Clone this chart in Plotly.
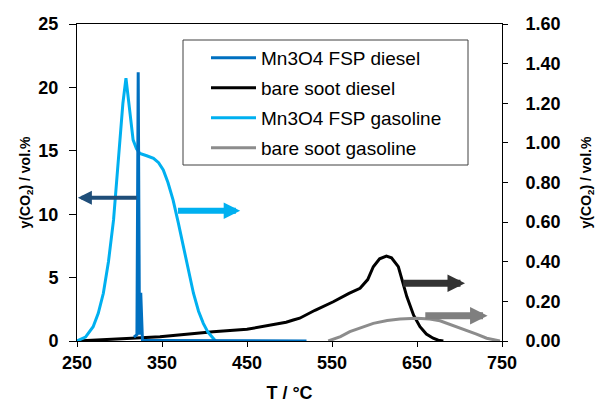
import plotly.graph_objects as go

# ---- data ----
T_fsp_diesel = [317, 320.5, 322, 323.5, 325, 327, 350, 400, 450, 500, 520]
y_fsp_diesel = [0.3, 0.5, 21.2, 0.5, 3.8, 0.05, 0.03, 0.02, 0.02, 0.01, 0.0]  # left axis

T_bare_diesel = [250, 280, 300, 320, 347.6, 380, 410, 450, 481, 496, 504.5, 512, 530, 551.5,
                 570, 583, 592, 598.6, 606, 614, 620, 628, 638, 646, 653.5, 661, 669, 675, 681]
y_bare_diesel = [0, 0.005, 0.01, 0.015, 0.022, 0.035, 0.047, 0.059, 0.081, 0.095, 0.106, 0.115,
                 0.155, 0.198, 0.24, 0.266, 0.31, 0.375, 0.415, 0.429, 0.42, 0.375, 0.224, 0.13,
                 0.072, 0.035, 0.014, 0.004, 0]

T_fsp_gasoline = [250, 260, 269, 275, 281, 287, 293, 300, 304, 307.6, 310, 313, 316, 320, 324,
                  332, 340, 346, 351.5, 357, 363, 369, 375, 381, 387, 393, 398.6, 404, 410, 413]
y_fsp_gasoline = [0, 0.02, 0.072, 0.14, 0.241, 0.40, 0.611, 0.998, 1.2, 1.327, 1.233, 1.10, 1.015,
                  0.97, 0.947, 0.935, 0.922, 0.90, 0.863, 0.80, 0.712, 0.60, 0.476, 0.35, 0.241,
                  0.15, 0.089, 0.045, 0.014, 0]

T_bare_gasoline = [545.6, 560, 571, 585, 598.6, 615, 630, 649.6, 665, 677, 692, 708, 720, 732, 740, 747.6]
y_bare_gasoline = [0, 0.022, 0.047, 0.07, 0.089, 0.103, 0.111, 0.115, 0.111, 0.102, 0.08, 0.056,
                   0.035, 0.014, 0.005, 0]

x_ticks = [250, 350, 450, 550, 650, 750]
y_left_ticks = [0, 5, 10, 15, 20, 25]
y_right_ticks = [0, 0.2, 0.4, 0.6, 0.8, 1.0, 1.2, 1.4, 1.6]

FONT = "Liberation Sans, Arial, sans-serif"

# plot-area geometry in pixels (for positioning legend pieces)
L, R, T, B = 77, 502, 24, 341
def px_x(p):
    return (p - L) / (R - L)
def px_y(p):
    return (B - p) / (B - T)

fig = go.Figure()
fig.add_trace(go.Scatter(x=T_fsp_diesel, y=y_fsp_diesel, name="Mn3O4 FSP diesel", mode="lines",
                         line=dict(color="#0070C0", width=3), yaxis="y2", legend="legend"))
fig.add_trace(go.Scatter(x=T_bare_diesel, y=y_bare_diesel, name="bare soot diesel", mode="lines",
                         line=dict(color="#000000", width=3), yaxis="y", legend="legend2"))
fig.add_trace(go.Scatter(x=T_fsp_gasoline, y=y_fsp_gasoline, name="Mn3O4 FSP gasoline", mode="lines",
                         line=dict(color="#00B0F0", width=3), yaxis="y", legend="legend3"))
fig.add_trace(go.Scatter(x=T_bare_gasoline, y=y_bare_gasoline, name="bare soot gasoline", mode="lines",
                         line=dict(color="#8C8C8C", width=3), yaxis="y", legend="legend4"))

# arrows indicating the axis of each series
arrows = [
    dict(x=251, y=11.3, ax=322, ay=11.3, yref="y2", ayref="y2", color="#1F4E79", w=4, s=0.7),
    dict(x=442, y=0.658, ax=367, ay=0.658, yref="y", ayref="y", color="#00B0F0", w=6, s=0.55),
    dict(x=706.5, y=0.291, ax=632, ay=0.291, yref="y", ayref="y", color="#333333", w=7, s=0.5),
    dict(x=733, y=0.128, ax=658, ay=0.128, yref="y", ayref="y", color="#7F7F7F", w=7, s=0.5),
]
for a in arrows:
    fig.add_annotation(x=a["x"], y=a["y"], ax=a["ax"], ay=a["ay"], xref="x", axref="x",
                       yref=a["yref"], ayref=a["ayref"], showarrow=True, text="",
                       arrowhead=2, arrowsize=a["s"], arrowwidth=a["w"], arrowcolor=a["color"], standoff=0)

# legend frame
fig.add_shape(type="rect", xref="paper", yref="paper",
              x0=px_x(183), x1=px_x(468), y0=px_y(165), y1=px_y(40),
              line=dict(color="#404040", width=1), fillcolor="white", layer="below")

title_font = dict(family=FONT, size=14, color="black", weight="bold")
tick_font = dict(family=FONT, size=18, color="black", weight="bold")
legend_font = dict(family=FONT, size=19, color="black")

rows = [58, 88, 118, 148]
legend_common = dict(xanchor="left", yanchor="middle", bgcolor="rgba(0,0,0,0)", borderwidth=0,
                     itemwidth=45, font=legend_font)

fig.update_layout(
    width=596, height=403,
    margin=dict(l=L, r=596 - R, t=T, b=403 - B),
    paper_bgcolor="white", plot_bgcolor="white",
    showlegend=True,
    legend=dict(x=px_x(206), y=px_y(rows[0]), **legend_common),
    legend2=dict(x=px_x(206), y=px_y(rows[1]), **legend_common),
    legend3=dict(x=px_x(206), y=px_y(rows[2]), **legend_common),
    legend4=dict(x=px_x(206), y=px_y(rows[3]), **legend_common),
    xaxis=dict(range=[250, 750], tickvals=x_ticks, ticks="outside", ticklen=5, tickcolor="black",
               showline=True, linecolor="black", linewidth=1, mirror=True, showgrid=False,
               zeroline=False, tickfont=tick_font, automargin=False,
               title=dict(text="T / °C", font=dict(family=FONT, size=18, color="black", weight="bold"),
                          standoff=17)),
    yaxis=dict(range=[0, 1.6], tickvals=y_right_ticks, tickformat=".2f", side="right",
               ticks="outside", ticklen=5, tickcolor="black", showline=True, linecolor="black",
               linewidth=1, showgrid=False, zeroline=False, tickfont=tick_font, automargin=False,
               ticklabelstandoff=14,
               title=dict(text="y(CO<sub>2</sub>) / vol.%", font=title_font, standoff=21)),
    yaxis2=dict(range=[0, 25], tickvals=y_left_ticks, overlaying="y", side="left",
                ticks="outside", ticklen=7, tickcolor="black", showline=True, linecolor="black",
                linewidth=1, showgrid=False, zeroline=False, tickfont=tick_font, automargin=False,
                ticklabelstandoff=7,
                title=dict(text="y(CO<sub>2</sub>) / vol.%", font=title_font, standoff=4)),
)

fig.write_html("out.html", post_script="document.body.style.margin='0';",
               config={"displayModeBar": False})
